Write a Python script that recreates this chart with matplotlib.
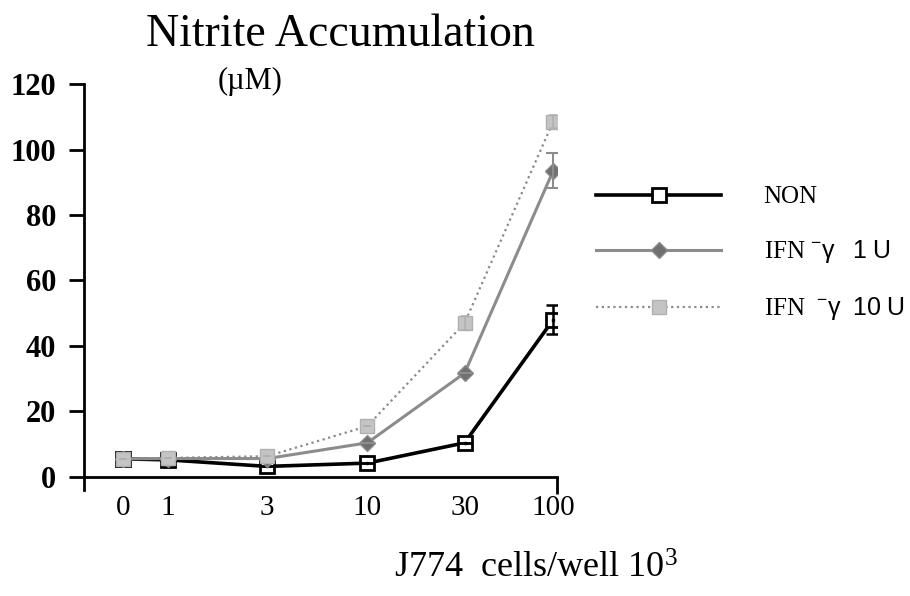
import matplotlib
matplotlib.use("Agg")
import matplotlib.pyplot as plt

# Data
doses = ["0", "1", "3", "10", "30", "100"]
non = [5.5, 5.2, 3.2, 4.2, 10.4, 48.0]
non_err = [0, 0, 0, 0, 0, 4.5]
ifn_1u = [5.5, 5.6, 5.6, 10.4, 31.7, 93.5]
ifn_1u_err = [0, 0, 0, 0, 0, 5.3]
ifn_10u = [5.5, 5.8, 6.3, 15.5, 47.0, 108.5]
ifn_10u_err = [0, 0, 0, 0, 2.0, 2.0]
series_labels = ["NON", r"IFN $\mathsf{{}^{-}γ\ \ \ 1\ U}$", r"IFN $\mathsf{\ {}^{-}γ\ \ 10\ U}$"]

# horizontal slot of each dose on the axis (layout only)
x_slot = [-0.47, 0, 1.03, 2.07, 3.08, 4.0]

plt.rcParams["font.family"] = ["Liberation Serif", "DejaVu Serif"]
plt.rcParams["mathtext.fontset"] = "custom"
plt.rcParams["mathtext.rm"] = "Liberation Serif"
plt.rcParams["mathtext.sf"] = "Liberation Sans"
plt.rcParams["mathtext.it"] = "Liberation Serif:italic"
plt.rcParams["mathtext.bf"] = "Liberation Serif:bold"

fig = plt.figure(figsize=(9.1, 5.96), dpi=100)
ax = fig.add_axes([84 / 910, 0.1779, 473 / 910, 0.681])

# NON: thick black line, open squares with a dot
h_non, = ax.plot(x_slot, non, color="black", lw=2.6, marker="s", ms=10,
                 mfc="white", mec="black", mew=2, zorder=3)
ax.plot(x_slot, non, ls="none", marker="s", ms=1.6, color="black", zorder=4)
ax.errorbar(x_slot, non, yerr=non_err, fmt="none", ecolor="black",
            elinewidth=1.8, capsize=5, capthick=1.8, zorder=3)

# IFN 1 U: grey line, dark diamonds
h_1u, = ax.plot(x_slot, ifn_1u, color="#8c8c8c", lw=2.2, marker="D", ms=8,
                mfc="#707070", mec="#8a8a8a", mew=1, zorder=5)
ax.errorbar(x_slot, ifn_1u, yerr=ifn_1u_err, fmt="none", ecolor="#8c8c8c",
            elinewidth=1.5, capsize=5, capthick=1.5, zorder=5)

# IFN 10 U: dotted line, stippled squares
h_10u, = ax.plot(x_slot, ifn_10u, color="#8a8a8a", lw=1.6, ls=(0, (1, 1.6)),
                 marker="s", ms=10, mfc="#c4c4c4", mec="#b0b0b0", mew=1,
                 zorder=6)
ax.errorbar(x_slot, ifn_10u, yerr=ifn_10u_err, fmt="none", ecolor="#b0b0b0",
            elinewidth=1.2, capsize=3, capthick=1.2, zorder=6)

ax.set_xlim(-0.873, 4.04)
ax.set_ylim(-4, 120)

for s in ["top", "right"]:
    ax.spines[s].set_visible(False)
ax.spines["bottom"].set_position(("data", 0))
ax.spines["left"].set_linewidth(2)
ax.spines["bottom"].set_linewidth(2)

ax.set_yticks([0, 20, 40, 60, 80, 100, 120])
ax.tick_params(axis="y", direction="out", length=11, width=2, pad=9,
               labelsize=22)
for t in ax.get_yticklabels():
    t.set_fontweight("bold")

ax.set_xticks(x_slot)
ax.set_xticklabels(doses)
ax.tick_params(axis="x", length=0, pad=13, labelsize=21)
ax.set_xticks([4.04], minor=True)
ax.tick_params(axis="x", which="minor", direction="out", length=12, width=2)

fig.text(0.374, 0.941, "Nitrite Accumulation", ha="center", va="center",
         fontsize=33)
fig.text(0.275, 0.864, "(µM)", ha="center", va="center", fontsize=22)
fig.text(0.589, 0.045, r"J774  cells/well 10$^{3}$", ha="center",
         va="center", fontsize=26)

leg = fig.legend([h_non, h_1u, h_10u], series_labels, loc="upper left",
                 bbox_to_anchor=(0.655, 0.688), frameon=False, fontsize=18,
                 handlelength=5.0, handletextpad=1.7, labelspacing=1.2,
                 borderpad=0, borderaxespad=0)

fig.savefig("out.png", dpi=100)
